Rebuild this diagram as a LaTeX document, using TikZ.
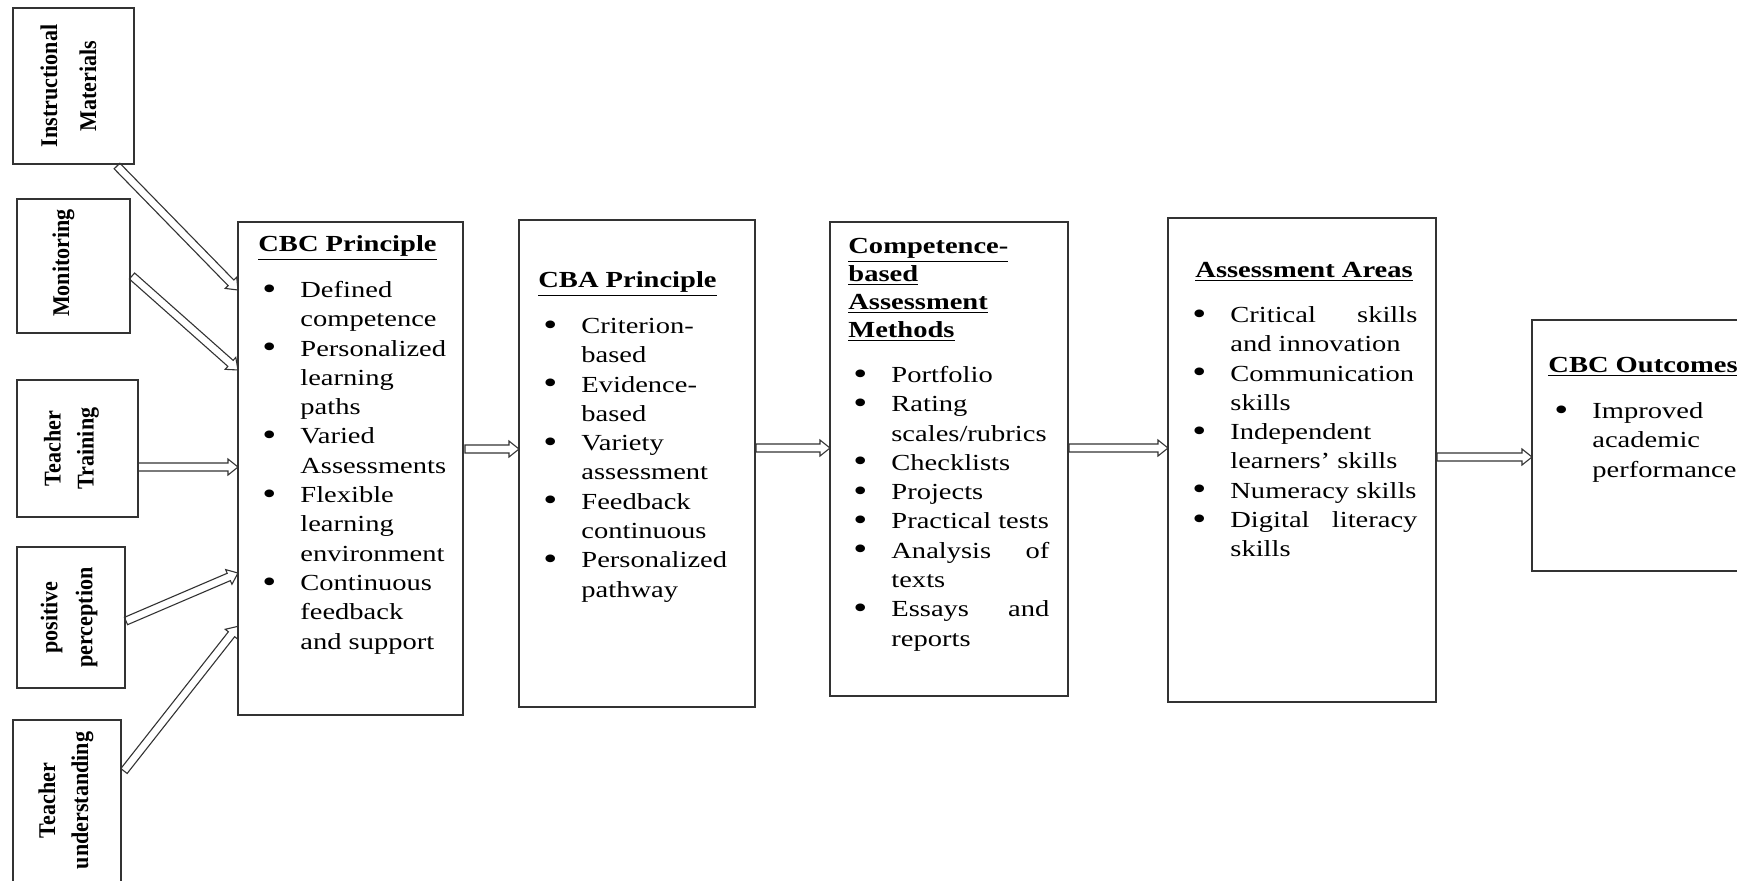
\documentclass[tikz,border=0pt]{standalone}
\usepackage{fontspec}
\setmainfont{Liberation Serif}[FakeStretch=1.24]
\newfontfamily\rotf{Liberation Serif}[FakeStretch=0.92]
\usetikzlibrary{fit,calc}
\tikzset{
  box/.style={draw=black!80, line width=0.9pt, inner sep=0pt, outer sep=0pt},
  rot/.style={rotate=90, align=center, inner sep=0pt, font=\rotf\bfseries\fontsize{12pt}{16.5pt}\selectfont},
  ttl/.style={anchor=north west, inner sep=0pt, align=left, font=\bfseries\fontsize{11.5pt}{14pt}\selectfont},
  lst/.style={anchor=north west, inner sep=0pt, align=left, font=\fontsize{11.5pt}{14.65pt}\selectfont},
  arr/.style={draw=black!80, line width=0.55pt, line join=miter},
}
\newcommand\bul{\makebox[19pt][l]{\raisebox{-0.8pt}{\scalebox{1.4}{\textbullet}}}}
\newcommand\ind{\hspace*{19pt}}
\newcommand\blockarrow[2]{%
  \path[arr] let \p1=(#1), \p2=(#2), \n1={atan2(\y2-\y1,\x2-\x1)}, \n2={veclen(\x2-\x1,\y2-\y1)} in
    [shift={(\p1)}, rotate=\n1]
    (0pt,-2pt) -- ({\n2-5pt},-2pt) -- ({\n2-5pt},-4pt) -- ({\n2*1pt},0pt)
    -- ({\n2-5pt},4pt) -- ({\n2-5pt},2pt) -- (0pt,2pt) -- cycle;}
\begin{document}
\begin{tikzpicture}[x=0.5pt,y=-0.5pt]
\useasboundingbox (0,0) rectangle (1737,880);
\clip (0,0) rectangle (1737,880);

% left factor boxes
\node[box, fit={(13,8) (134,164)}] (inst) {};
\node[box, fit={(17,199) (130,333)}] (mon) {};
\node[box, fit={(17,380) (138,517)}] (train) {};
\node[box, fit={(17,547) (125,688)}] (perc) {};
\node[box, fit={(13,720) (121,885)}] (und) {};

\node[rot] (instT) at ($(inst.center)+(-5,0)$) {Instructional\\[3pt]Materials};
\node[rot] (monT) at ($(mon.center)+(-10,-3)$) {Monitoring};
\node[rot] (trainT) at ($(train.center)+(-6,0)$) {Teacher\\Training};
\node[rot] (percT) at ($(perc.center)+(-2,0)$) {positive\\[1pt]perception};
\node[rot] (undT) at ($(und.center)+(-1,-2)$) {Teacher\\understanding};

% main boxes
\node[box, fit={(238,222) (463,715)}] (cbc) {};
\node[box, fit={(519,220) (755,707)}] (cba) {};
\node[box, fit={(830,222) (1068,696)}] (meth) {};
\node[box, fit={(1168,218) (1436,702)}] (areas) {};
\node[box, fit={(1532,320) (1750,571)}] (out) {};

% CBC principle
\node[ttl] (cbcT) at (258,231.4) {\strut\underline{CBC Principle}};
\node[lst] (cbcL) at (262,276.5) {\strut\bul Defined\\ \ind competence\\ \bul Personalized\\ \ind learning\\ \ind paths\\ \bul Varied\\ \ind Assessments\\ \bul Flexible\\ \ind learning\\ \ind environment\\ \bul Continuous\\ \ind feedback\\ \ind and support};

% CBA principle
\node[ttl] (cbaT) at (538,267.4) {\strut\underline{CBA Principle}};
\node[lst] (cbaL) at (543,312.5) {\strut\bul Criterion-\\ \ind based\\ \bul Evidence-\\ \ind based\\ \bul Variety\\ \ind assessment\\ \bul Feedback\\ \ind continuous\\ \bul Personalized\\ \ind pathway};

% Methods
\node[ttl] (methT) at (848,233.4) {\strut\underline{Competence-}\\\underline{based}\\\underline{Assessment}\\\underline{Methods}};
\node[lst] (methL) at (853,361.5) {\strut\bul Portfolio\\ \bul Rating\\ \ind scales/rubrics\\ \bul Checklists\\ \bul Projects\\ \bul Practical tests\\ \bul \makebox[79pt][s]{Analysis of}\\ \ind texts\\ \bul \makebox[79pt][s]{Essays and}\\ \ind reports};

% Assessment areas
\node[ttl] (areasT) at (1195,257.4) {\strut\underline{Assessment Areas}};
\node[lst] (areasL) at (1192,301.5) {\strut\bul \makebox[93.5pt][s]{Critical skills}\\ \ind and innovation\\ \bul Communication\\ \ind skills\\ \bul Independent\\ \ind learners’ skills\\ \bul Numeracy skills\\ \bul \makebox[93.5pt][s]{Digital literacy}\\ \ind skills};

% Outcomes
\node[ttl] (outT) at (1548,352.4) {\strut\underline{CBC Outcomes}};
\node[lst] (outL) at (1554,397.5) {\strut\bul Improved\\ \ind academic\\ \ind performance};

% arrows into CBC principle
\blockarrow{$(inst.south east)+(-17,2)$}{$(cbc.north west)+(0,68)$}
\blockarrow{$(mon.north east)+(2,77)$}{$(cbc.north west)+(0,148)$}
\blockarrow{$(train.north east)+(0,87)$}{$(cbc.north west)+(0,245)$}
\blockarrow{$(perc.north east)+(1,74)$}{$(cbc.north west)+(0,351)$}
\blockarrow{$(und.north east)+(3,51)$}{$(cbc.north west)+(0,404)$}

% main chain
\blockarrow{$(cbc.north east)+(2,227)$}{$(cba.north west)+(0,229)$}
\blockarrow{$(cba.north east)+(1,228)$}{$(meth.north west)+(0,226)$}
\blockarrow{$(meth.north east)+(1,226)$}{$(areas.north west)+(0,230)$}
\blockarrow{$(areas.north east)+(1,239)$}{$(out.north west)+(0,137)$}
\end{tikzpicture}
\end{document}
